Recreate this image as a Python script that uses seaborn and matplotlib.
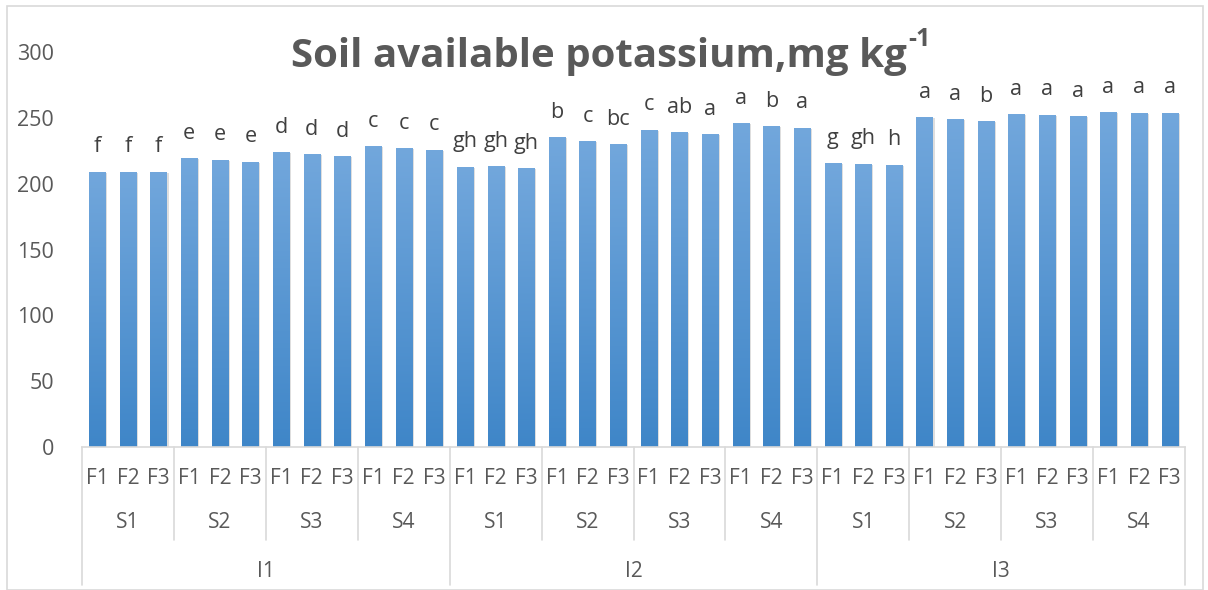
import numpy as np
import pandas as pd
import matplotlib
matplotlib.use('Agg')
import matplotlib.pyplot as plt
import seaborn as sns
from matplotlib.patches import Rectangle

irrigation = ['I1', 'I2', 'I3']
systems = ['S1', 'S2', 'S3', 'S4']
fertilizer = ['F1', 'F2', 'F3']

# soil available K, mg/kg (I1 S1..S4, I2 S1..S4, I3 S1..S4; F1-F3 each)
values = [
    209.0, 209.0, 209.0, 219.5, 218.0, 216.5, 224.0, 222.5, 221.0, 228.6, 227.0, 225.6,
    212.7, 213.4, 211.9, 235.4, 232.4, 230.1, 240.8, 239.2, 237.7, 246.0, 243.8, 242.3,
    215.7, 215.0, 214.2, 250.6, 249.1, 247.6, 252.9, 252.2, 251.4, 254.4, 253.7, 253.7,
]
letters = [
    'f', 'f', 'f', 'e', 'e', 'e', 'd', 'd', 'd', 'c', 'c', 'c',
    'gh', 'gh', 'gh', 'b', 'c', 'bc', 'c', 'ab', 'a', 'a', 'b', 'a',
    'g', 'gh', 'h', 'a', 'a', 'b', 'a', 'a', 'a', 'a', 'a', 'a',
]

rows = []
for i in irrigation:
    for s in systems:
        for f in fertilizer:
            rows.append((i, s, f))
df = pd.DataFrame(rows, columns=['I', 'S', 'F'])
df['key'] = df['I'] + '-' + df['S'] + '-' + df['F']
df['K'] = values

sns.set_style('white')
plt.rcParams['font.family'] = ['Open Sans', 'DejaVu Sans']
grey = '#595959'
line_grey = '#d9d9d9'

fig = plt.figure(figsize=(12.08, 5.90), dpi=100)
ax = fig.add_axes([82 / 1208, 1 - 447 / 590, (1185 - 82) / 1208, (447 - 52) / 590])

sns.barplot(data=df, x='key', y='K', order=list(df['key']), color='#5b9bd5',
            width=0.53, ax=ax, errorbar=None)

# vertical gradient fill like the Excel bars, with a soft shadow on the right
grad = np.linspace(0, 1, 256).reshape(-1, 1)
cmap = matplotlib.colors.LinearSegmentedColormap.from_list('bar', ['#3f86c8', '#72a7dc'])
for p in ax.patches:
    x0, y0 = p.get_x(), p.get_y()
    w, h = p.get_width(), p.get_height()
    sh = Rectangle((x0 + 0.06, y0), w, h - 0.6, facecolor='#c8c8c8', edgecolor='none',
                   alpha=0.6, zorder=1)
    ax.add_patch(sh)
    im = ax.imshow(grad, extent=[x0, x0 + w, y0, y0 + h], origin='lower', cmap=cmap,
                   aspect='auto', zorder=2)
    im.set_clip_path(p)
    p.set_facecolor('none')
    p.set_edgecolor('none')

for idx, (v, lab) in enumerate(zip(df['K'], letters)):
    ax.text(idx, v + 11, lab, ha='center', va='bottom', fontsize=15.5, color='#404040')

ax.set_xlim(-0.5, len(df) - 0.5)
ax.set_ylim(0, 300)
ax.set_yticks(range(0, 301, 50))
ax.tick_params(axis='y', labelsize=15.5, labelcolor=grey, length=0, pad=20)
ax.set_xticks([])
ax.set_xlabel('')
ax.set_ylabel('')
for side in ['top', 'right', 'left']:
    ax.spines[side].set_visible(False)
ax.spines['bottom'].set_color(line_grey)
ax.spines['bottom'].set_linewidth(1.2)

# multi-level category axis
tr = ax.get_xaxis_transform()
for idx, f in enumerate(df['F']):
    ax.text(idx, -0.08, f, transform=tr, ha='center', va='center', fontsize=15, color=grey)
n_f = len(fertilizer)
for k in range(len(irrigation) * len(systems)):
    ax.text(k * n_f + 1, -0.19, systems[k % len(systems)], transform=tr, ha='center',
            va='center', fontsize=15, color=grey)
n_i = len(systems) * n_f
for k, name in enumerate(irrigation):
    ax.text(k * n_i + (n_i - 1) / 2, -0.316, name, transform=tr, ha='center', va='center',
            fontsize=15, color=grey)
for b in range(0, len(df) + 1, n_f):
    bottom = -0.35 if b % n_i == 0 else -0.235
    ax.plot([b - 0.5, b - 0.5], [0, bottom], transform=tr, color=line_grey, lw=1.2,
            clip_on=False)

title = fig.text(599 / 1208, 1 - 57 / 590, 'Soil available potassium,mg kg', ha='center',
                 va='center', fontsize=29, fontweight='bold', color=grey)
fig.canvas.draw()
ax.annotate('-1', xy=(1, 0.62), xycoords=title, xytext=(1, 0), textcoords='offset points',
            ha='left', va='bottom', fontsize=18, fontweight='bold', color=grey)

fig.patches.append(Rectangle((7 / 1208, 0), 1196 / 1208, 1 - 6 / 590, transform=fig.transFigure,
                             fill=False, edgecolor=line_grey, lw=1.2))

fig.savefig('out.png', dpi=100)
